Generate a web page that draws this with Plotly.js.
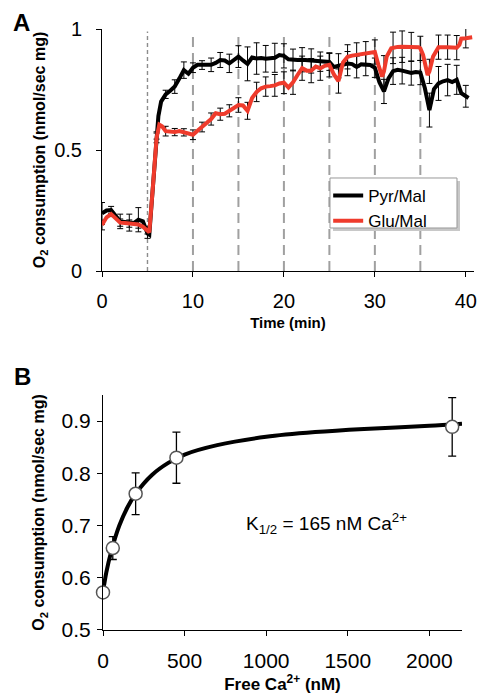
<!DOCTYPE html>
<html>
<head>
<meta charset="utf-8">
<script src="https://cdn.plot.ly/plotly-3.0.1.min.js"></script>
<style>html,body{margin:0;padding:0;background:#fff;}#chart{width:477px;height:696px;}</style>
</head>
<body>
<div id="chart"></div>
<script>
// ---------- Panel A: O2 consumption time course ----------
const pyrTime = [0,0.5,1,1.5,2,2.5,3,3.5,4,4.5,5,5.2,5.5,6,6.2,6.5,7,7.5,8,8.5,9,9.5,10,10.5,11,11.5,12,12.5,13,13.5,14,14.5,15,15.5,16,16.5,17,17.5,18,18.5,19,19.5,20,20.5,21,21.5,22,22.5,23,23.5,24,24.5,25,25.5,26,26.5,27,27.5,28,28.5,29,29.5,30,30.5,31,31.5,32,32.5,33,33.5,34,34.5,35,35.5,36,36.5,37,37.5,38,38.5,39,39.5,40,40.3];
const pyrValues = [0.238,0.250,0.252,0.225,0.205,0.203,0.200,0.198,0.212,0.205,0.155,0.150,0.300,0.560,0.640,0.700,0.730,0.745,0.762,0.795,0.830,0.815,0.840,0.852,0.851,0.853,0.852,0.860,0.872,0.870,0.858,0.872,0.886,0.870,0.856,0.882,0.878,0.880,0.877,0.879,0.881,0.892,0.889,0.875,0.872,0.872,0.873,0.871,0.868,0.866,0.865,0.865,0.864,0.843,0.848,0.852,0.857,0.855,0.843,0.854,0.852,0.851,0.840,0.780,0.742,0.796,0.826,0.831,0.828,0.824,0.818,0.822,0.820,0.755,0.665,0.752,0.775,0.784,0.789,0.781,0.790,0.735,0.722,0.715];

const gluTime = [0,0.5,1,1.5,2,2.5,3,3.5,4,4.5,5,5.2,5.6,6,6.3,6.6,7,7.5,8,8.5,9,9.5,10,10.5,11,11.5,12,12.5,13,13.5,14,14.5,15,15.5,16,16.5,17,17.5,18,18.5,19,19.5,20,20.5,21,21.5,22,22.5,23,23.5,24,24.5,25,25.5,26,26.5,27,27.5,28,28.5,29,29.5,30,30.4,30.8,31,31.3,31.8,32,32.5,33,34,34.8,35,35.3,35.8,36,36.4,37,38,39,39.3,39.5,40,40.7];
const gluValues = [0.190,0.222,0.235,0.215,0.200,0.198,0.196,0.193,0.192,0.183,0.168,0.160,0.350,0.550,0.605,0.598,0.578,0.575,0.574,0.578,0.573,0.568,0.563,0.580,0.595,0.610,0.628,0.652,0.648,0.650,0.662,0.672,0.686,0.684,0.662,0.715,0.740,0.755,0.762,0.764,0.767,0.775,0.778,0.758,0.780,0.810,0.838,0.828,0.828,0.845,0.838,0.848,0.852,0.812,0.785,0.862,0.885,0.890,0.893,0.895,0.898,0.902,0.905,0.850,0.803,0.825,0.886,0.920,0.922,0.926,0.927,0.926,0.925,0.920,0.893,0.810,0.825,0.886,0.925,0.925,0.923,0.935,0.960,0.962,0.966];

// error bars read once per minute
const errTime = [0,1,2,3,4,5,6,7,8,9,10,11,12,13,14,15,16,17,18,19,20,21,22,23,24,25,26,27,28,29,30,31,32,33,34,35,36,37,38,39,40];
const pyrErr = [0.045,0.015,0.030,0.035,0.050,0.020,0.015,0.017,0.028,0.034,0.020,0.018,0.028,0.031,0.038,0.045,0.070,0.065,0.055,0.060,0.050,0.045,0.050,0.050,0.040,0.035,0.050,0.050,0.045,0.045,0.040,0.050,0.055,0.055,0.050,0.050,0.070,0.070,0.065,0.060,0.045];
const gluErr = [0.020,0.010,0.015,0.015,0.015,0.015,0.020,0.020,0.015,0.015,0.020,0.020,0.025,0.025,0.025,0.030,0.035,0.040,0.040,0.045,0.045,0.050,0.050,0.050,0.050,0.050,0.050,0.050,0.050,0.050,0.050,0.065,0.065,0.065,0.060,0.050,0.050,0.050,0.050,0.050,0.040];

// substrate / Ca2+ addition times (dashed markers)
const additionTimes = [5,10,15,20,25,30,35];

// ---------- Panel B: Ca2+ dependence ----------
const caConc = [0,60,200,450,2140];
const caRate = [0.572,0.657,0.761,0.830,0.889];
const caErr = [0.008,0.022,0.040,0.049,0.056];
const fitConc = [0,20,50,100,150,200,300,400,500,700,1000,1300,1600,2000,2200];
const fitRate = [0.573,0.610,0.650,0.700,0.735,0.761,0.797,0.820,0.836,0.854,0.870,0.879,0.885,0.891,0.895];

const FONT = 'Liberation Sans, Arial, Helvetica, sans-serif';
function valuesAt(times, ts, vs){
  return times.map(t => { const i = ts.findIndex(x => Math.abs(x - t) < 1e-9); return vs[i]; });
}

const traces = [
  {x: pyrTime, y: pyrValues, type:'scatter', mode:'lines', name:'Pyr/Mal',
   line:{color:'#000000', width:4}, xaxis:'x', yaxis:'y', hoverinfo:'skip'},
  {x: errTime, y: valuesAt(errTime, pyrTime, pyrValues), type:'scatter', mode:'markers', showlegend:false,
   marker:{size:2, color:'rgba(0,0,0,0)'}, error_y:{type:'data', array:pyrErr, visible:true, color:'#000', thickness:1, width:3},
   xaxis:'x', yaxis:'y', hoverinfo:'skip'},
  {x: errTime, y: valuesAt(errTime, gluTime, gluValues), type:'scatter', mode:'markers', showlegend:false,
   marker:{size:2, color:'rgba(0,0,0,0)'}, error_y:{type:'data', array:gluErr, visible:true, color:'#000', thickness:1, width:3},
   xaxis:'x', yaxis:'y', hoverinfo:'skip'},
  {x: gluTime, y: gluValues, type:'scatter', mode:'lines', name:'Glu/Mal',
   line:{color:'#ef3b2c', width:4}, xaxis:'x', yaxis:'y', hoverinfo:'skip'},
  {x: fitConc, y: fitRate, type:'scatter', mode:'lines', showlegend:false,
   line:{color:'#000', width:4, shape:'spline', smoothing:0.8}, xaxis:'x2', yaxis:'y2', hoverinfo:'skip', cliponaxis:false},
  {x: caConc, y: caRate, type:'scatter', mode:'markers', showlegend:false, cliponaxis:false,
   marker:{size:13, color:'#ffffff', line:{color:'#555', width:1.5}},
   error_y:{type:'data', array:caErr, visible:true, color:'#000', thickness:1.3, width:4},
   xaxis:'x2', yaxis:'y2', hoverinfo:'skip'}
];

const shapes = additionTimes.map(t => ({
  type:'line', xref:'x', yref:'y', x0:t, x1:t, y0:0, y1:0.99, layer:'below',
  line: t === 5 ? {color:'#8c8c8c', width:1.4, dash:'4px,3px'} : {color:'#a0a0a0', width:2, dash:'10px,6px'}
}));
// legend frame: drop shadow + white box
shapes.push({type:'rect', xref:'paper', yref:'paper', x0:0.621, x1:0.9624, y0:0.6639, y1:0.7471,
  fillcolor:'#c8c8c8', line:{width:0}, layer:'above'});
shapes.push({type:'rect', xref:'paper', yref:'paper', x0:0.6129, x1:0.9543, y0:0.6689, y1:0.7521,
  fillcolor:'#ffffff', line:{color:'#999', width:1}, layer:'above'});

const axisCommon = {showgrid:false, zeroline:false, showline:true, linecolor:'#000', linewidth:1,
  ticks:'outside', ticklen:5, tickcolor:'#000', tickwidth:1};

const layout = {
  width:477, height:696,
  margin:{l:102, r:3, t:29, b:66},
  paper_bgcolor:'#fff', plot_bgcolor:'#fff',
  font:{family:FONT, color:'#000'},
  showlegend:true,
  legend:{x:0.608, y:0.752, xanchor:'left', yanchor:'top', bgcolor:'rgba(0,0,0,0)', borderwidth:0,
    font:{size:17, family:FONT}, tracegroupgap:0},
  xaxis: Object.assign({}, axisCommon, {domain:[0,1], anchor:'y', range:[0,40.9], tick0:0, dtick:10,
    tickfont:{size:20}, ticklabelstandoff:7,
    title:{text:'<b>Time (min)</b>', font:{size:15}, standoff:6}}),
  yaxis: Object.assign({}, axisCommon, {domain:[0.5973,1], anchor:'x', range:[0,1], tick0:0, dtick:0.5,
    tickfont:{size:20}, ticklabelstandoff:10,
    title:{text:'<b>O<sub>2</sub> consumption (nmol/sec mg)</b>', font:{size:16}, standoff:4}}),
  xaxis2: Object.assign({}, axisCommon, {domain:[0.0027,0.9677], anchor:'y2', range:[0,2200], tick0:0, dtick:500,
    tickfont:{size:21}, ticklabelstandoff:7,
    title:{text:'<b>Free Ca<sup>2+</sup> (nM)</b>', font:{size:17}, standoff:5}}),
  yaxis2: Object.assign({}, axisCommon, {domain:[0,0.391], anchor:'x2', range:[0.5,0.95], tick0:0.5, dtick:0.1,
    tickfont:{size:21}, ticklabelstandoff:2,
    title:{text:'<b>O<sub>2</sub> consumption (nmol/sec mg)</b>', font:{size:16}, standoff:12}}),
  shapes: shapes,
  annotations:[
    {text:'<b>A</b>', xref:'paper', yref:'paper', x:-0.245, y:1.037, xanchor:'left', yanchor:'top', showarrow:false, font:{size:24}},
    {text:'<b>B</b>', xref:'paper', yref:'paper', x:-0.242, y:0.4476, xanchor:'left', yanchor:'top', showarrow:false, font:{size:24}},
    {text:'K<sub>1/2</sub> = 165 nM Ca<sup>2+</sup>', xref:'x2', yref:'y2', x:865, y:0.703, xanchor:'left', yanchor:'middle', showarrow:false, font:{size:19}}
  ]
};

Plotly.newPlot('chart', traces, layout, {staticPlot:true, displayModeBar:false});
</script>
</body>
</html>
